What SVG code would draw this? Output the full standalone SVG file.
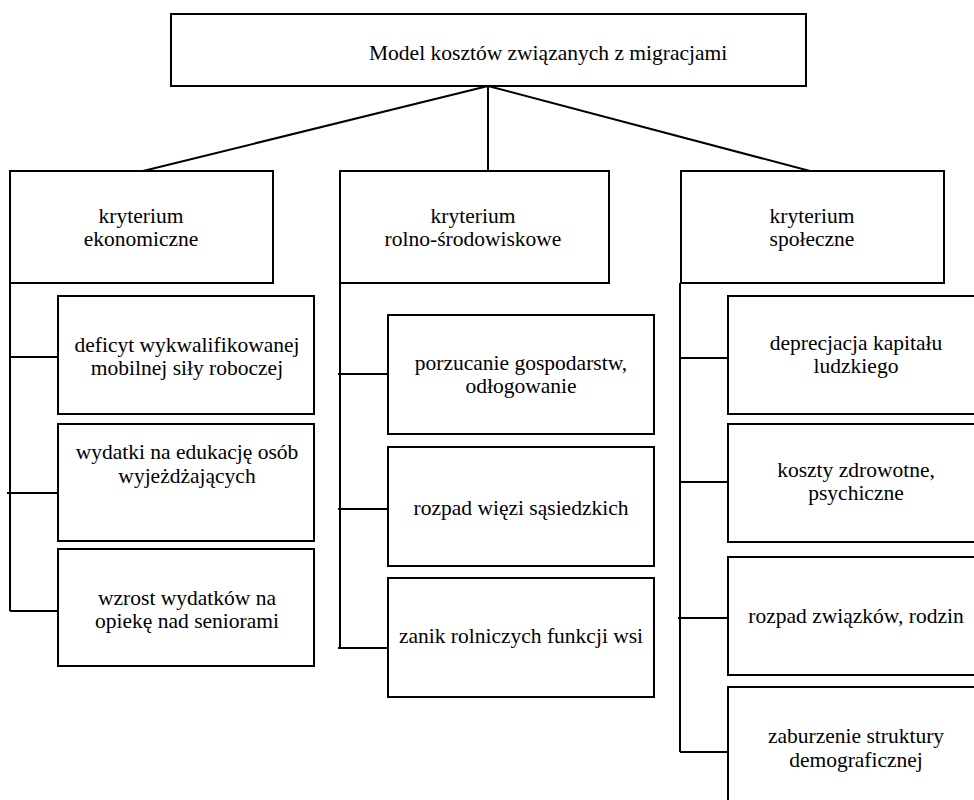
<svg xmlns="http://www.w3.org/2000/svg" width="974" height="800" viewBox="0 0 974 800">
<style>
rect{fill:#fff;stroke:#000;stroke-width:2}
line{stroke:#000;stroke-width:2}
text{font-family:"Liberation Serif","Times New Roman",serif;font-size:21.5px;fill:#000;text-anchor:middle}
</style>
<rect x="0" y="0" width="974" height="800" style="stroke:none"/>
<g id="connectors">
<line x1="488" y1="86" x2="143" y2="171"/>
<line x1="488" y1="86" x2="488" y2="171"/>
<line x1="488" y1="86" x2="810" y2="171"/>
<line x1="10" y1="283" x2="10" y2="611"/>
<line x1="10" y1="357" x2="58" y2="357"/>
<line x1="7" y1="493" x2="58" y2="493"/>
<line x1="10" y1="611" x2="58" y2="611"/>
<line x1="340" y1="283" x2="340" y2="648"/>
<line x1="338" y1="374" x2="388" y2="374"/>
<line x1="338" y1="509" x2="388" y2="509"/>
<line x1="338" y1="648" x2="388" y2="648"/>
<line x1="680" y1="283" x2="680" y2="752"/>
<line x1="680" y1="358" x2="728" y2="358"/>
<line x1="680" y1="482" x2="728" y2="482"/>
<line x1="678" y1="618" x2="728" y2="618"/>
<line x1="680" y1="752" x2="728" y2="752"/>
</g>
<g id="root">
<rect x="171" y="14" width="635" height="72"/>
<text x="369" y="60" style="text-anchor:start">Model kosztów związanych z migracjami</text>
</g>
<g id="k-ekonomiczne">
<rect x="10" y="171" width="263" height="112"/>
<text x="141" y="223">kryterium</text>
<text x="141" y="246">ekonomiczne</text>
</g>
<g id="k-rolno">
<rect x="340" y="171" width="269" height="112"/>
<text x="473" y="223">kryterium</text>
<text x="473" y="246">rolno-środowiskowe</text>
</g>
<g id="k-spoleczne">
<rect x="681" y="171" width="263" height="112"/>
<text x="812" y="223">kryterium</text>
<text x="812" y="246">społeczne</text>
</g>
<g id="e1">
<rect x="58" y="296" width="256" height="118"/>
<text x="187" y="352">deficyt wykwalifikowanej</text>
<text x="187" y="375">mobilnej siły roboczej</text>
</g>
<g id="e2">
<rect x="58" y="424" width="256" height="117"/>
<text x="187" y="459">wydatki na edukację osób</text>
<text x="187" y="483">wyjeżdżających</text>
</g>
<g id="e3">
<rect x="58" y="549" width="256" height="117"/>
<text x="187" y="605">wzrost wydatków na</text>
<text x="187" y="628">opiekę nad seniorami</text>
</g>
<g id="r1">
<rect x="388" y="315" width="266" height="119"/>
<text x="521" y="370">porzucanie gospodarstw,</text>
<text x="521" y="393">odłogowanie</text>
</g>
<g id="r2">
<rect x="388" y="447" width="266" height="119"/>
<text x="521" y="515">rozpad więzi sąsiedzkich</text>
</g>
<g id="r3">
<rect x="388" y="578" width="266" height="119"/>
<text x="521" y="643">zanik rolniczych funkcji wsi</text>
</g>
<g id="s1">
<rect x="728" y="296" width="260" height="118"/>
<text x="856" y="350">deprecjacja kapitału</text>
<text x="856" y="373">ludzkiego</text>
</g>
<g id="s2">
<rect x="728" y="424" width="260" height="118"/>
<text x="856" y="477">koszty zdrowotne,</text>
<text x="856" y="500">psychiczne</text>
</g>
<g id="s3">
<rect x="728" y="557" width="260" height="118"/>
<text x="856" y="623">rozpad związków, rodzin</text>
</g>
<g id="s4">
<rect x="728" y="687" width="260" height="130"/>
<text x="856" y="743">zaburzenie struktury</text>
<text x="856" y="767">demograficznej</text>
</g>
</svg>
